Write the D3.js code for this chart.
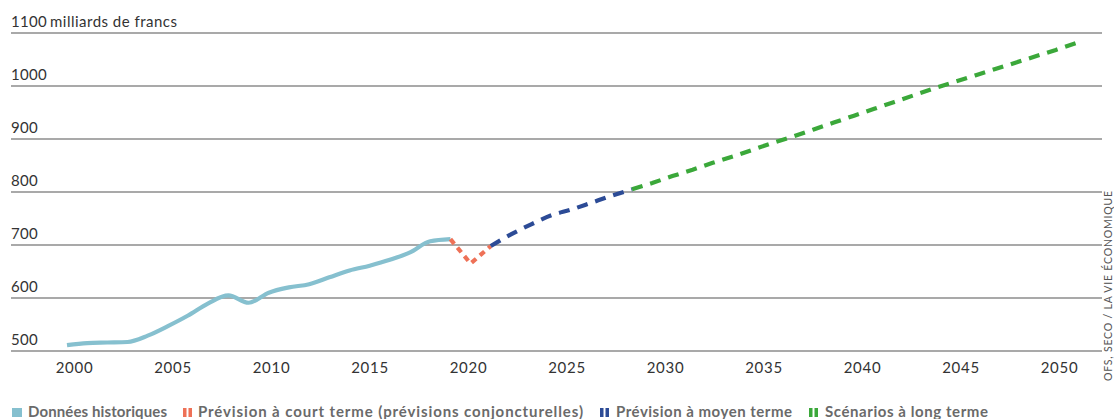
<!DOCTYPE html>
<html><head><meta charset="utf-8">
<script src="https://cdn.jsdelivr.net/npm/d3@7"></script>
<style>body{margin:0;background:#fff} svg{display:block}</style>
</head><body><svg id="c" width="1114" height="419"></svg>
<script>
// ---- data ----
const histYears = d3.range(2000, 2020);
const histValues = [511,515,516,517,529,547,567,590,605,591,610,620,626,639,652,661,672,686,707,711];
const shortYears = [2019, 2020, 2021];
const shortValues = [711, 665, 698];
const midYears = d3.range(2021, 2029);
const midValues = [698,720,739,756,767,780,793,805];
const longYears = d3.range(2028, 2051);
const longValues = [805,817,830,842,855,867,880,893,905,918,931,944,957,970,983,996,1008,1020,1032,1044,1056,1068,1081];
const yTicks = [500,600,700,800,900,1000,1100];
const xTicks = [2000,2005,2010,2015,2020,2025,2030,2035,2040,2045,2050];
const unitLabel = "milliards de francs";
const sourceLabel = "OFS, SECO / LA VIE ÉCONOMIQUE";
const legendLabels = ["Données historiques","Prévision à court terme (prévisions conjoncturelles)","Prévision à moyen terme","Scénarios à long terme"];

// ---- styles ----
const colors = {hist:"#86c0cf", short:"#ee7157", mid:"#2c4b96", long:"#3ba83a"};
const svg = d3.select("#c");
const x = d3.scaleLinear().domain([2000, 2050]).range([67, 1076]);
const xLab = d3.scaleLinear().domain([2000, 2050]).range([74.5, 1059.5]);
const y = d3.scaleLinear().domain([500, 1100]).range([351, 33]);
const axisFont = "Lato, 'Open Sans', sans-serif";

// gridlines
svg.append("g").selectAll("line").data(yTicks).join("line")
  .attr("x1", 11).attr("x2", 1102)
  .attr("y1", d => y(d)).attr("y2", d => y(d))
  .attr("stroke", "#8c8c8c").attr("stroke-width", 1.3);

// y labels
svg.append("g").selectAll("text").data(yTicks).join("text")
  .attr("x", 11).attr("y", d => y(d) - 6.5)
  .attr("font-family", axisFont).attr("font-size", 15).attr("fill", "#333")
  .attr("letter-spacing", 0.3)
  .text(d => d);
svg.append("text").attr("x", 50).attr("y", y(1100) - 6.5)
  .attr("font-family", axisFont).attr("font-size", 15).attr("fill", "#333")
  .attr("textLength", 127).attr("lengthAdjust", "spacing")
  .text(unitLabel);

// x labels
svg.append("g").selectAll("text").data(xTicks).join("text")
  .attr("x", d => xLab(d)).attr("y", 373).attr("text-anchor", "middle")
  .attr("font-family", axisFont).attr("font-size", 15).attr("fill", "#333")
  .attr("letter-spacing", 0.7)
  .text(d => d);

// lines
const mk = (ys, vs) => ys.map((yr, i) => [yr, vs[i]]);
const lineMono = d3.line().x(d => x(d[0])).y(d => y(d[1])).curve(d3.curveMonotoneX);
const lineLin = d3.line().x(d => x(d[0])).y(d => y(d[1]));

svg.append("path").attr("d", lineMono(mk(histYears, histValues)))
  .attr("fill", "none").attr("stroke", colors.hist).attr("stroke-width", 4.2);
svg.append("path").attr("d", lineLin(mk(shortYears, shortValues)))
  .attr("fill", "none").attr("stroke", colors.short).attr("stroke-width", 4.2)
  .attr("stroke-dasharray", "6,5");
svg.append("path").attr("d", lineMono(mk(midYears, midValues)))
  .attr("fill", "none").attr("stroke", colors.mid).attr("stroke-width", 4.2)
  .attr("stroke-dasharray", "11,8");
svg.append("path").attr("d", lineLin(mk(longYears, longValues)))
  .attr("fill", "none").attr("stroke", colors.long).attr("stroke-width", 4.2)
  .attr("stroke-dasharray", "11,8");

// source
svg.append("text").attr("transform", "translate(1112,381) rotate(-90)")
  .attr("font-family", axisFont).attr("font-size", 10.5).attr("fill", "#555")
  .attr("textLength", 190).attr("lengthAdjust", "spacing")
  .text(sourceLabel);

// legend
const legX = [12, 183, 600, 809];
const legTextX = [28, 198, 616, 825];
const legW = [139, 385, 176, 163];
const legCols = [colors.hist, colors.short, colors.mid, colors.long];
const lg = svg.append("g");
legendLabels.forEach((lab, i) => {
  if (i === 0) {
    lg.append("rect").attr("x", legX[i]).attr("y", 408).attr("width", 10).attr("height", 9).attr("fill", legCols[i]);
  } else {
    lg.append("rect").attr("x", legX[i]).attr("y", 408).attr("width", 3.5).attr("height", 9).attr("fill", legCols[i]);
    lg.append("rect").attr("x", legX[i] + 5.5).attr("y", 408).attr("width", 3.5).attr("height", 9).attr("fill", legCols[i]);
  }
  lg.append("text").attr("x", legTextX[i]).attr("y", 416.5)
    .attr("font-family", axisFont).attr("font-weight", 700).attr("font-size", 15).attr("fill", "#6a6a6a")
    .attr("textLength", legW[i]).attr("lengthAdjust", "spacing")
    .text(lab);
});
</script></body></html>
